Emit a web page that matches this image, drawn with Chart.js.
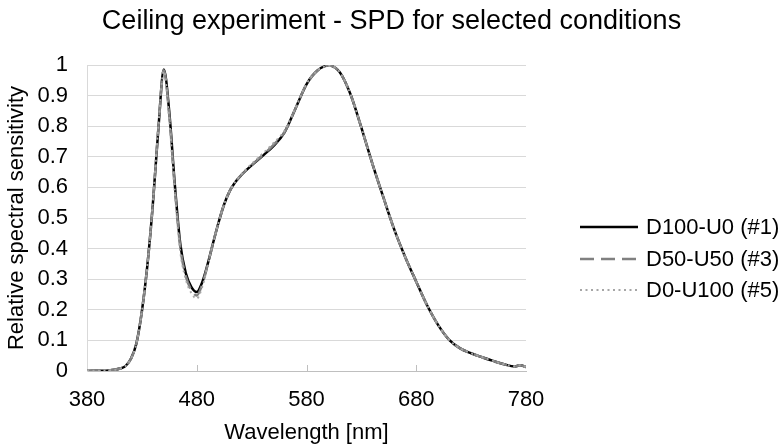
<!DOCTYPE html>
<html>
<head>
<meta charset="utf-8">
<script src="https://cdn.jsdelivr.net/npm/chart.js@4/dist/chart.umd.min.js"></script>
<style>
  body { margin: 0; background: #fff; }
</style>
</head>
<body>
<canvas id="chart" width="783" height="447"></canvas>
<script>
"use strict";

const wavelengths = [380, 390, 400, 405, 410, 415, 420, 425, 430, 435, 440, 445, 450, 455, 460, 465, 470, 475, 480, 485, 490, 495, 500, 505, 510, 515, 520, 530, 540, 550, 560, 570, 580, 590, 600, 610, 620, 630, 640, 650, 660, 670, 680, 690, 700, 710, 720, 730, 740, 750, 760, 770, 775, 780];

const d100u0 = [0.000, 0.001, 0.002, 0.004, 0.008, 0.016, 0.040, 0.090, 0.195, 0.345, 0.545, 0.790, 0.985, 0.845, 0.610, 0.415, 0.320, 0.275, 0.258, 0.290, 0.350, 0.420, 0.487, 0.545, 0.588, 0.617, 0.638, 0.672, 0.703, 0.736, 0.780, 0.858, 0.937, 0.982, 0.998, 0.978, 0.905, 0.795, 0.678, 0.568, 0.462, 0.372, 0.292, 0.214, 0.150, 0.102, 0.074, 0.058, 0.045, 0.033, 0.022, 0.015, 0.019, 0.013];

const d50u50 = [0.000, 0.001, 0.002, 0.004, 0.008, 0.016, 0.040, 0.090, 0.195, 0.345, 0.545, 0.792, 0.983, 0.835, 0.600, 0.405, 0.310, 0.265, 0.247, 0.283, 0.348, 0.420, 0.487, 0.545, 0.588, 0.617, 0.638, 0.673, 0.705, 0.739, 0.781, 0.858, 0.937, 0.982, 0.998, 0.978, 0.905, 0.795, 0.678, 0.568, 0.462, 0.372, 0.292, 0.214, 0.150, 0.102, 0.074, 0.058, 0.045, 0.033, 0.022, 0.015, 0.019, 0.013];

const d0u100 = [0.000, 0.001, 0.002, 0.004, 0.008, 0.016, 0.040, 0.090, 0.195, 0.345, 0.550, 0.800, 0.980, 0.820, 0.585, 0.390, 0.300, 0.255, 0.237, 0.275, 0.345, 0.420, 0.487, 0.545, 0.588, 0.618, 0.640, 0.677, 0.710, 0.745, 0.785, 0.860, 0.938, 0.982, 0.997, 0.978, 0.905, 0.795, 0.678, 0.568, 0.462, 0.372, 0.292, 0.214, 0.150, 0.102, 0.074, 0.058, 0.045, 0.033, 0.022, 0.015, 0.019, 0.013];

const seriesNames = ["D100-U0 (#1)", "D50-U50 (#3)", "D0-U100 (#5)"];
const xTicks = [380, 480, 580, 680, 780];

const FONT = "'Liberation Sans', Arial, sans-serif";

function toPoints(values) {
  return wavelengths.map((w, i) => ({ x: w, y: values[i] }));
}

// legend on the right, drawn by hand so it sits where Excel put it
const sideLegend = {
  id: "sideLegend",
  afterDraw(chart) {
    const ctx = chart.ctx;
    const rows = [227, 259, 290];
    ctx.save();
    chart.data.datasets.forEach((ds, i) => {
      const y = rows[i];
      ctx.beginPath();
      ctx.strokeStyle = ds.borderColor;
      ctx.lineWidth = ds.borderWidth;
      ctx.setLineDash(ds.borderDash || []);
      ctx.moveTo(580, y);
      ctx.lineTo(638, y);
      ctx.stroke();
      ctx.setLineDash([]);
      ctx.fillStyle = "#000";
      ctx.font = "22px " + FONT;
      ctx.textBaseline = "middle";
      ctx.textAlign = "left";
      ctx.fillText(ds.label, 646, y + 1);
    });
    ctx.restore();
  }
};

// small inward tick marks on the x axis
const xTickMarks = {
  id: "xTickMarks",
  afterDatasetsDraw(chart) {
    const ctx = chart.ctx;
    const xs = chart.scales.x;
    const bottom = chart.chartArea.bottom;
    ctx.save();
    ctx.strokeStyle = "#bfbfbf";
    ctx.lineWidth = 1;
    xTicks.slice(1, -1).forEach(v => {
      const px = Math.round(xs.getPixelForValue(v)) + 0.5;
      ctx.beginPath();
      ctx.moveTo(px, bottom);
      ctx.lineTo(px, bottom - 6);
      ctx.stroke();
    });
    ctx.restore();
  }
};

const chartObj = {
  type: "line",
  data: {
    datasets: [
      {
        label: seriesNames[0],
        data: toPoints(d100u0),
        borderColor: "#000000",
        borderWidth: 2.5,
        order: 3,
      },
      {
        label: seriesNames[1],
        data: toPoints(d50u50),
        borderColor: "#808080",
        borderWidth: 2.5,
        borderDash: [14, 7],
        order: 2,
      },
      {
        label: seriesNames[2],
        data: toPoints(d0u100),
        borderColor: "#a6a6a6",
        borderWidth: 2,
        borderDash: [2, 3.5],
        order: 1,
      },
    ],
  },
  options: {
    responsive: false,
    animation: false,
    parsing: false,
    elements: {
      point: { radius: 0 },
      line: { cubicInterpolationMode: "monotone", fill: false },
    },
    scales: {
      x: {
        type: "linear",
        min: 380,
        max: 780,
        afterBuildTicks: scale => { scale.ticks = xTicks.map(v => ({ value: v })); },
        afterFit: scale => { scale.height = 76; },
        ticks: {
          color: "#000",
          padding: 16,
          maxRotation: 0,
          font: { family: FONT, size: 22 },
        },
        grid: { display: false, drawTicks: false },
        border: { display: true, color: "#bfbfbf", width: 1 },
        title: {
          display: true,
          text: "Wavelength [nm]",
          color: "#000",
          font: { family: FONT, size: 22 },
          padding: { top: 6, bottom: 1 },
        },
      },
      y: {
        min: 0,
        max: 1,
        afterFit: scale => { scale.width = 87; },
        ticks: {
          stepSize: 0.1,
          autoSkip: false,
          color: "#000",
          padding: 19,
          font: { family: FONT, size: 22 },
          callback: v => String(Number(v.toFixed(1))),
        },
        grid: { color: "#d9d9d9", lineWidth: 1, drawTicks: false },
        border: { display: true, color: "#d9d9d9" },
        title: {
          display: true,
          text: "Relative spectral sensitivity",
          color: "#000",
          font: { family: FONT, size: 22 },
          padding: { top: 4, bottom: 4 },
        },
      },
      // empty right-hand axis that only reserves room for the legend
      legendSpace: {
        type: "linear",
        position: "right",
        afterFit: scale => { scale.width = 257; },
        ticks: { display: false },
        grid: { display: false, drawTicks: false },
        border: { display: false },
      },
    },
    plugins: {
      legend: { display: false },
      tooltip: { enabled: false },
      title: {
        display: true,
        text: "Ceiling experiment - SPD for selected conditions",
        color: "#000",
        font: { family: FONT, size: 27, weight: "normal" },
        padding: { top: 5, bottom: 27.6 },
      },
    },
  },
  plugins: [xTickMarks, sideLegend],
};

new Chart(document.getElementById("chart"), chartObj);
</script>
</body>
</html>
